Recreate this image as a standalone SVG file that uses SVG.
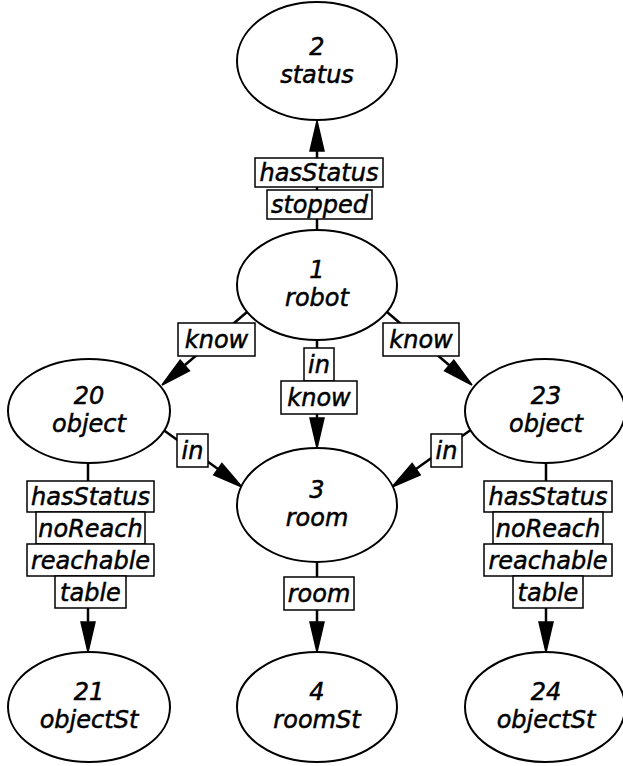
<svg xmlns="http://www.w3.org/2000/svg" width="623" height="766" viewBox="0 0 623 766">
<style>
  .node ellipse { fill: #ffffff; stroke: #000000; stroke-width: 2; }
  text { font-family: "DejaVu Sans", "Liberation Sans", sans-serif; font-style: italic; font-size: 24px; fill: #000000; stroke: #000000; stroke-width: 0.5; text-anchor: middle; }
  .edge line { stroke: #000000; stroke-width: 2.5; }
  .edge polygon { fill: #000000; stroke: #000000; stroke-width: 1.5; }
  .lbl rect { fill: #ffffff; stroke: #000000; stroke-width: 1.5; }
</style>
<rect width="623" height="766" fill="#ffffff"/>
<g id="connectors">
  <g class="edge" id="e1_2">
    <line x1="317" y1="230" x2="317" y2="150"/>
    <polygon points="317,121 310,151 324,151"/>
    <g class="lbl">
      <rect x="255" y="158" width="128" height="29"/><text x="319" y="181">hasStatus</text>
      <rect x="267" y="190" width="105" height="29"/><text x="319.5" y="213">stopped</text>
    </g>
  </g>
  <g class="edge" id="e1_20">
    <line x1="247" y1="312" x2="185" y2="365"/>
    <polygon points="162,385 189.4,370.7 180.2,360.1"/>
    <g class="lbl"><rect x="178" y="323" width="77" height="33"/><text x="216.5" y="348">know</text></g>
  </g>
  <g class="edge" id="e1_23">
    <line x1="387" y1="312" x2="449" y2="365"/>
    <polygon points="472,385 444.6,370.7 453.8,360.1"/>
    <g class="lbl"><rect x="383" y="323" width="76" height="33"/><text x="421" y="348">know</text></g>
  </g>
  <g class="edge" id="e1_3">
    <line x1="317" y1="340" x2="317" y2="419"/>
    <polygon points="317,448 310,418 324,418"/>
    <g class="lbl">
      <rect x="304" y="348" width="30" height="33"/><text x="319" y="373">in</text>
      <rect x="281" y="381" width="76" height="33"/><text x="319" y="406">know</text>
    </g>
  </g>
  <g class="edge" id="e20_3">
    <line x1="162" y1="429" x2="218" y2="469"/>
    <polygon points="242,487 213.8,474.9 221.9,463.5"/>
    <g class="lbl"><rect x="177" y="434" width="31" height="33"/><text x="192.5" y="459">in</text></g>
  </g>
  <g class="edge" id="e23_3">
    <line x1="472" y1="429" x2="416" y2="469"/>
    <polygon points="392,487 420.2,474.9 412.1,463.5"/>
    <g class="lbl"><rect x="431" y="434" width="31" height="33"/><text x="446.5" y="459">in</text></g>
  </g>
  <g class="edge" id="e3_4">
    <line x1="317" y1="562" x2="317" y2="623"/>
    <polygon points="317,652 310,622 324,622"/>
    <g class="lbl"><rect x="284" y="577" width="70" height="33"/><text x="319" y="602">room</text></g>
  </g>
  <g class="edge" id="e20_21">
    <line x1="88" y1="463" x2="88" y2="623"/>
    <polygon points="88,652 81,622 95,622"/>
    <g class="lbl">
      <rect x="27" y="481" width="127" height="31"/><text x="90.5" y="505">hasStatus</text>
      <rect x="36" y="512" width="109" height="32"/><text x="90.5" y="537">noReach</text>
      <rect x="27" y="544" width="127" height="32"/><text x="90.5" y="569">reachable</text>
      <rect x="55" y="576" width="71" height="32"/><text x="90.5" y="601">table</text>
    </g>
  </g>
  <g class="edge" id="e23_24">
    <line x1="546" y1="463" x2="546" y2="623"/>
    <polygon points="546,652 539,622 553,622"/>
    <g class="lbl">
      <rect x="484" y="481" width="128" height="31"/><text x="548" y="505">hasStatus</text>
      <rect x="493" y="512" width="110" height="32"/><text x="548" y="537">noReach</text>
      <rect x="484" y="544" width="128" height="32"/><text x="548" y="569">reachable</text>
      <rect x="513" y="576" width="70" height="32"/><text x="548" y="601">table</text>
    </g>
  </g>
</g>
<g class="node" id="n2"><ellipse cx="317" cy="61" rx="80" ry="59"/><text x="317" y="55">2</text><text x="317" y="83">status</text></g>
<g class="node" id="n1"><ellipse cx="317" cy="285" rx="80" ry="55"/><text x="317" y="278">1</text><text x="317" y="306">robot</text></g>
<g class="node" id="n20"><ellipse cx="89" cy="411" rx="81" ry="52"/><text x="89" y="404">20</text><text x="89" y="432">object</text></g>
<g class="node" id="n23"><ellipse cx="545" cy="411" rx="80" ry="52"/><text x="546" y="404">23</text><text x="546" y="432">object</text></g>
<g class="node" id="n3"><ellipse cx="317" cy="505" rx="80" ry="57"/><text x="317" y="498">3</text><text x="317" y="526">room</text></g>
<g class="node" id="n21"><ellipse cx="89" cy="707" rx="81" ry="55"/><text x="89" y="700">21</text><text x="89" y="728">objectSt</text></g>
<g class="node" id="n4"><ellipse cx="317" cy="707" rx="80" ry="55"/><text x="317" y="700">4</text><text x="317" y="728">roomSt</text></g>
<g class="node" id="n24"><ellipse cx="545" cy="707" rx="80" ry="55"/><text x="546" y="700">24</text><text x="546" y="728">objectSt</text></g>
</svg>
